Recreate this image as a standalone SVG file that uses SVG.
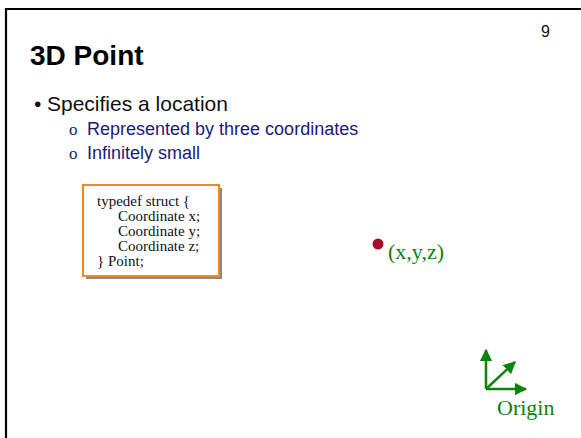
<svg xmlns="http://www.w3.org/2000/svg" width="581" height="438" viewBox="0 0 581 438">
  <style>
    .sans { font-family: "Liberation Sans", Arial, sans-serif; }
    .serif { font-family: "Liberation Serif", "Times New Roman", serif; }
    .title { font-size: 28px; font-weight: bold; fill: #000; }
    .num { font-size: 16px; fill: #111; }
    .l1 { font-size: 21px; fill: #111; }
    .l2 { font-size: 18px; fill: #1a1a78; }
    .l2b { font-size: 17px; fill: #1a1a78; }
    .code { font-size: 15px; fill: #111; }
    .green { font-size: 22px; fill: #0b840b; }
    .axis { stroke: #0b840b; stroke-width: 2.5; fill: none; marker-end: url(#head); }
  </style>
  <defs>
    <marker id="head" viewBox="0 0 10 10" refX="9" refY="5" markerWidth="5" markerHeight="5" markerUnits="strokeWidth" orient="auto">
      <path d="M0,0 L10,5 L0,10 Z" fill="#0b840b"/>
    </marker>
  </defs>

  <rect width="581" height="438" fill="#fff"/>

  <!-- slide frame: runs off the right and bottom edges -->
  <path d="M6,445 L6,9 L590,9" fill="none" stroke="#000" stroke-width="2.2"/>

  <text class="sans num" x="541" y="37">9</text>
  <text class="sans title" x="30" y="65">3D Point</text>

  <g id="bullets">
    <text class="sans l1" x="34" y="111">•</text>
    <text class="sans l1" x="47" y="111">Specifies a location</text>
    <text class="serif l2b" x="69" y="135">o</text>
    <text class="sans l2" x="87" y="135">Represented by three coordinates</text>
    <text class="serif l2b" x="69" y="159">o</text>
    <text class="sans l2" x="87" y="159">Infinitely small</text>
  </g>

  <g id="struct-box">
    <rect x="86" y="188" width="136" height="91" fill="#888"/>
    <rect x="83" y="185" width="136" height="91" fill="#fff" stroke="#f08a1c" stroke-width="2"/>
    <text class="serif code" x="97" y="206">typedef struct {</text>
    <text class="serif code" x="118" y="221">Coordinate x;</text>
    <text class="serif code" x="118" y="236">Coordinate y;</text>
    <text class="serif code" x="118" y="251">Coordinate z;</text>
    <text class="serif code" x="97" y="266">} Point;</text>
  </g>

  <g id="point">
    <circle cx="378" cy="244" r="5.5" fill="#a3102c"/>
    <text class="serif green" x="388" y="259">(x,y,z)</text>
  </g>

  <g id="connectors">
    <line class="axis" x1="486" y1="389" x2="486" y2="350"/>
    <line class="axis" x1="486" y1="389" x2="526" y2="389"/>
    <line class="axis" x1="486" y1="389" x2="515" y2="362"/>
  </g>

  <g id="origin">
    <text class="serif green" x="497" y="415">Origin</text>
  </g>
</svg>
